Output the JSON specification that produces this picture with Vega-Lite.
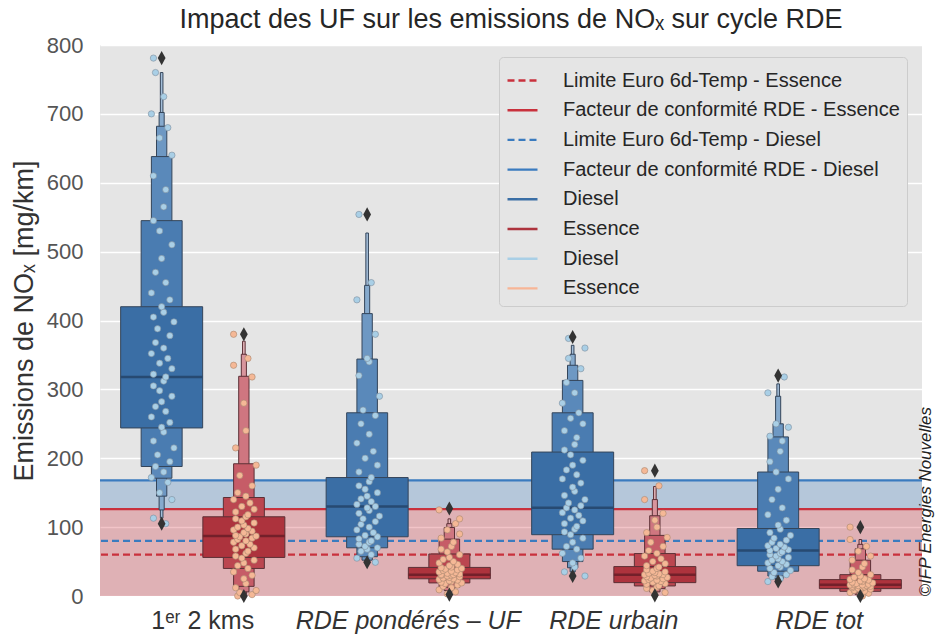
{
  "$schema": "https://vega.github.io/schema/vega-lite/v6.json",
  "width": 822,
  "height": 551,
  "autosize": {"type": "none"},
  "padding": {"left": 100, "top": 45, "right": 14, "bottom": 45},
  "background": "white",
  "config": {
    "font": "Liberation Sans",
    "view": {"fill": "#e5e5e5", "stroke": null},
    "axisX": {"domain": false, "ticks": false, "grid": false, "labelFontSize": 25, "labelColor": "#333333", "labelPadding": 12, "labelAngle": 0, "labelLimit": 400, "labelOverlap": false},
    "axisLeft": {"grid": true, "gridColor": "#ffffff", "gridWidth": 1.5, "domain": false, "ticks": false, "labelFontSize": 22, "labelColor": "#555555", "labelPadding": 17, "titleFontSize": 27, "titleFontWeight": "normal", "titleColor": "#333333", "titlePadding": 8},
    "axisRight": {"labels": false, "ticks": false, "domain": false, "grid": false, "titleFontSize": 17, "titleFontStyle": "italic", "titleFontWeight": "normal", "titleColor": "#222222", "titleAngle": 270, "titleAnchor": "start", "titlePadding": 12}
  },
  "title": {"text": "Impact des UF sur les emissions de NOₓ sur cycle RDE", "fontSize": 27, "fontWeight": "normal", "color": "#262626", "offset": 0},
  "datasets": {
    "zones": [
      {"zone": "Essence", "bas": 0, "haut": 126},
      {"zone": "Diesel", "bas": 126, "haut": 168}
    ],
    "seuils": [
      {"legende": "Limite Euro 6d-Temp - Essence", "valeur": 60},
      {"legende": "Facteur de conformité RDE - Essence", "valeur": 126},
      {"legende": "Limite Euro 6d-Temp - Diesel", "valeur": 80},
      {"legende": "Facteur de conformité RDE - Diesel", "valeur": 168}
    ],
    "boites": [
      {"cycle": "1ᵉʳ 2 kms", "type": "Diesel", "niveau": 6, "bas": 113, "haut": 760},
      {"cycle": "RDE pondérés – UF", "type": "Diesel", "niveau": 6, "bas": 49, "haut": 527},
      {"cycle": "RDE urbain", "type": "Diesel", "niveau": 6, "bas": 31, "haut": 364},
      {"cycle": "RDE tot", "type": "Diesel", "niveau": 6, "bas": 22, "haut": 308},
      {"cycle": "1ᵉʳ 2 kms", "type": "Essence", "niveau": 6, "bas": 0, "haut": 370},
      {"cycle": "RDE pondérés – UF", "type": "Essence", "niveau": 6, "bas": 3, "haut": 112},
      {"cycle": "RDE urbain", "type": "Essence", "niveau": 6, "bas": 2, "haut": 159},
      {"cycle": "RDE tot", "type": "Essence", "niveau": 6, "bas": 0.5, "haut": 82},
      {"cycle": "1ᵉʳ 2 kms", "type": "Diesel", "niveau": 5, "bas": 125, "haut": 702},
      {"cycle": "RDE pondérés – UF", "type": "Diesel", "niveau": 5, "bas": 50, "haut": 451},
      {"cycle": "RDE urbain", "type": "Diesel", "niveau": 5, "bas": 35, "haut": 351},
      {"cycle": "RDE tot", "type": "Diesel", "niveau": 5, "bas": 23, "haut": 290},
      {"cycle": "1ᵉʳ 2 kms", "type": "Essence", "niveau": 5, "bas": 3, "haut": 351},
      {"cycle": "RDE pondérés – UF", "type": "Essence", "niveau": 5, "bas": 5, "haut": 105},
      {"cycle": "RDE urbain", "type": "Essence", "niveau": 5, "bas": 4, "haut": 140},
      {"cycle": "RDE tot", "type": "Essence", "niveau": 5, "bas": 1, "haut": 75},
      {"cycle": "1ᵉʳ 2 kms", "type": "Diesel", "niveau": 4, "bas": 145, "haut": 682},
      {"cycle": "RDE pondérés – UF", "type": "Diesel", "niveau": 4, "bas": 52, "haut": 410},
      {"cycle": "RDE urbain", "type": "Diesel", "niveau": 4, "bas": 41, "haut": 335},
      {"cycle": "RDE tot", "type": "Diesel", "niveau": 4, "bas": 25, "haut": 250},
      {"cycle": "1ᵉʳ 2 kms", "type": "Essence", "niveau": 4, "bas": 6, "haut": 319},
      {"cycle": "RDE pondérés – UF", "type": "Essence", "niveau": 4, "bas": 8, "haut": 99.5},
      {"cycle": "RDE urbain", "type": "Essence", "niveau": 4, "bas": 6, "haut": 116.5},
      {"cycle": "RDE tot", "type": "Essence", "niveau": 4, "bas": 2, "haut": 68.5},
      {"cycle": "1ᵉʳ 2 kms", "type": "Diesel", "niveau": 3, "bas": 171, "haut": 638},
      {"cycle": "RDE pondérés – UF", "type": "Diesel", "niveau": 3, "bas": 57, "haut": 344},
      {"cycle": "RDE urbain", "type": "Diesel", "niveau": 3, "bas": 50, "haut": 313},
      {"cycle": "RDE tot", "type": "Diesel", "niveau": 3, "bas": 29, "haut": 231},
      {"cycle": "1ᵉʳ 2 kms", "type": "Essence", "niveau": 3, "bas": 14, "haut": 192},
      {"cycle": "RDE pondérés – UF", "type": "Essence", "niveau": 3, "bas": 12.6, "haut": 82.6},
      {"cycle": "RDE urbain", "type": "Essence", "niveau": 3, "bas": 10.7, "haut": 88},
      {"cycle": "RDE tot", "type": "Essence", "niveau": 3, "bas": 4.4, "haut": 52},
      {"cycle": "1ᵉʳ 2 kms", "type": "Diesel", "niveau": 2, "bas": 188, "haut": 545},
      {"cycle": "RDE pondérés – UF", "type": "Diesel", "niveau": 2, "bas": 70, "haut": 266},
      {"cycle": "RDE urbain", "type": "Diesel", "niveau": 2, "bas": 68, "haut": 266},
      {"cycle": "RDE tot", "type": "Diesel", "niveau": 2, "bas": 36, "haut": 180},
      {"cycle": "1ᵉʳ 2 kms", "type": "Essence", "niveau": 2, "bas": 40, "haut": 143},
      {"cycle": "RDE pondérés – UF", "type": "Essence", "niveau": 2, "bas": 19, "haut": 61},
      {"cycle": "RDE urbain", "type": "Essence", "niveau": 2, "bas": 14.6, "haut": 61.6},
      {"cycle": "RDE tot", "type": "Essence", "niveau": 2, "bas": 6.8, "haut": 31},
      {"cycle": "1ᵉʳ 2 kms", "type": "Diesel", "niveau": 1, "bas": 244, "haut": 420, "mediane": 318},
      {"cycle": "RDE pondérés – UF", "type": "Diesel", "niveau": 1, "bas": 86, "haut": 172, "mediane": 130},
      {"cycle": "RDE urbain", "type": "Diesel", "niveau": 1, "bas": 89, "haut": 209, "mediane": 128},
      {"cycle": "RDE tot", "type": "Diesel", "niveau": 1, "bas": 44, "haut": 98, "mediane": 66},
      {"cycle": "1ᵉʳ 2 kms", "type": "Essence", "niveau": 1, "bas": 56, "haut": 115, "mediane": 87},
      {"cycle": "RDE pondérés – UF", "type": "Essence", "niveau": 1, "bas": 25, "haut": 41.5, "mediane": 31},
      {"cycle": "RDE urbain", "type": "Essence", "niveau": 1, "bas": 19.4, "haut": 42.7, "mediane": 31},
      {"cycle": "RDE tot", "type": "Essence", "niveau": 1, "bas": 10.7, "haut": 23.8, "mediane": 16.5}
    ],
    "aberrants": [
      {"cycle": "1ᵉʳ 2 kms", "type": "Diesel", "v": 781},
      {"cycle": "1ᵉʳ 2 kms", "type": "Diesel", "v": 105},
      {"cycle": "1ᵉʳ 2 kms", "type": "Essence", "v": 380},
      {"cycle": "1ᵉʳ 2 kms", "type": "Essence", "v": 0},
      {"cycle": "RDE pondérés – UF", "type": "Diesel", "v": 554},
      {"cycle": "RDE pondérés – UF", "type": "Diesel", "v": 49},
      {"cycle": "RDE pondérés – UF", "type": "Essence", "v": 127},
      {"cycle": "RDE pondérés – UF", "type": "Essence", "v": 2},
      {"cycle": "RDE urbain", "type": "Diesel", "v": 376},
      {"cycle": "RDE urbain", "type": "Diesel", "v": 29},
      {"cycle": "RDE urbain", "type": "Essence", "v": 182},
      {"cycle": "RDE urbain", "type": "Essence", "v": 1},
      {"cycle": "RDE tot", "type": "Diesel", "v": 320},
      {"cycle": "RDE tot", "type": "Diesel", "v": 21},
      {"cycle": "RDE tot", "type": "Essence", "v": 100},
      {"cycle": "RDE tot", "type": "Essence", "v": 0}
    ],
    "points": [
      {"cycle": "1ᵉʳ 2 kms", "type": "Diesel", "v": 105, "j": 2},
      {"cycle": "1ᵉʳ 2 kms", "type": "Diesel", "v": 113, "j": -4},
      {"cycle": "1ᵉʳ 2 kms", "type": "Diesel", "v": 140, "j": 5},
      {"cycle": "1ᵉʳ 2 kms", "type": "Diesel", "v": 150, "j": -1},
      {"cycle": "1ᵉʳ 2 kms", "type": "Diesel", "v": 165, "j": 3},
      {"cycle": "1ᵉʳ 2 kms", "type": "Diesel", "v": 172, "j": -5},
      {"cycle": "1ᵉʳ 2 kms", "type": "Diesel", "v": 180, "j": 1},
      {"cycle": "1ᵉʳ 2 kms", "type": "Diesel", "v": 188, "j": -3},
      {"cycle": "1ᵉʳ 2 kms", "type": "Diesel", "v": 195, "j": 4},
      {"cycle": "1ᵉʳ 2 kms", "type": "Diesel", "v": 205, "j": -2},
      {"cycle": "1ᵉʳ 2 kms", "type": "Diesel", "v": 215, "j": 6},
      {"cycle": "1ᵉʳ 2 kms", "type": "Diesel", "v": 225, "j": -4},
      {"cycle": "1ᵉʳ 2 kms", "type": "Diesel", "v": 238, "j": 1},
      {"cycle": "1ᵉʳ 2 kms", "type": "Diesel", "v": 245, "j": 0},
      {"cycle": "1ᵉʳ 2 kms", "type": "Diesel", "v": 252, "j": 4},
      {"cycle": "1ᵉʳ 2 kms", "type": "Diesel", "v": 260, "j": -5},
      {"cycle": "1ᵉʳ 2 kms", "type": "Diesel", "v": 268, "j": 2},
      {"cycle": "1ᵉʳ 2 kms", "type": "Diesel", "v": 275, "j": -3},
      {"cycle": "1ᵉʳ 2 kms", "type": "Diesel", "v": 282, "j": 0},
      {"cycle": "1ᵉʳ 2 kms", "type": "Diesel", "v": 290, "j": 5},
      {"cycle": "1ᵉʳ 2 kms", "type": "Diesel", "v": 298, "j": -1},
      {"cycle": "1ᵉʳ 2 kms", "type": "Diesel", "v": 305, "j": -4},
      {"cycle": "1ᵉʳ 2 kms", "type": "Diesel", "v": 312, "j": 1},
      {"cycle": "1ᵉʳ 2 kms", "type": "Diesel", "v": 318, "j": 2},
      {"cycle": "1ᵉʳ 2 kms", "type": "Diesel", "v": 322, "j": -4},
      {"cycle": "1ᵉʳ 2 kms", "type": "Diesel", "v": 330, "j": 5},
      {"cycle": "1ᵉʳ 2 kms", "type": "Diesel", "v": 338, "j": -1},
      {"cycle": "1ᵉʳ 2 kms", "type": "Diesel", "v": 345, "j": 3},
      {"cycle": "1ᵉʳ 2 kms", "type": "Diesel", "v": 352, "j": -5},
      {"cycle": "1ᵉʳ 2 kms", "type": "Diesel", "v": 360, "j": 1},
      {"cycle": "1ᵉʳ 2 kms", "type": "Diesel", "v": 368, "j": -3},
      {"cycle": "1ᵉʳ 2 kms", "type": "Diesel", "v": 378, "j": 4},
      {"cycle": "1ᵉʳ 2 kms", "type": "Diesel", "v": 388, "j": -2},
      {"cycle": "1ᵉʳ 2 kms", "type": "Diesel", "v": 398, "j": 6},
      {"cycle": "1ᵉʳ 2 kms", "type": "Diesel", "v": 405, "j": -4},
      {"cycle": "1ᵉʳ 2 kms", "type": "Diesel", "v": 412, "j": 1},
      {"cycle": "1ᵉʳ 2 kms", "type": "Diesel", "v": 420, "j": 0},
      {"cycle": "1ᵉʳ 2 kms", "type": "Diesel", "v": 430, "j": 4},
      {"cycle": "1ᵉʳ 2 kms", "type": "Diesel", "v": 440, "j": -5},
      {"cycle": "1ᵉʳ 2 kms", "type": "Diesel", "v": 455, "j": 2},
      {"cycle": "1ᵉʳ 2 kms", "type": "Diesel", "v": 470, "j": -3},
      {"cycle": "1ᵉʳ 2 kms", "type": "Diesel", "v": 490, "j": 0},
      {"cycle": "1ᵉʳ 2 kms", "type": "Diesel", "v": 510, "j": 5},
      {"cycle": "1ᵉʳ 2 kms", "type": "Diesel", "v": 530, "j": -1},
      {"cycle": "1ᵉʳ 2 kms", "type": "Diesel", "v": 545, "j": -4},
      {"cycle": "1ᵉʳ 2 kms", "type": "Diesel", "v": 565, "j": 1},
      {"cycle": "1ᵉʳ 2 kms", "type": "Diesel", "v": 590, "j": 2},
      {"cycle": "1ᵉʳ 2 kms", "type": "Diesel", "v": 610, "j": -4},
      {"cycle": "1ᵉʳ 2 kms", "type": "Diesel", "v": 640, "j": 5},
      {"cycle": "1ᵉʳ 2 kms", "type": "Diesel", "v": 665, "j": -1},
      {"cycle": "1ᵉʳ 2 kms", "type": "Diesel", "v": 680, "j": 3},
      {"cycle": "1ᵉʳ 2 kms", "type": "Diesel", "v": 700, "j": -5},
      {"cycle": "1ᵉʳ 2 kms", "type": "Diesel", "v": 725, "j": 1},
      {"cycle": "1ᵉʳ 2 kms", "type": "Diesel", "v": 760, "j": -3},
      {"cycle": "1ᵉʳ 2 kms", "type": "Diesel", "v": 781, "j": -4},
      {"cycle": "1ᵉʳ 2 kms", "type": "Essence", "v": 0, "j": -3},
      {"cycle": "1ᵉʳ 2 kms", "type": "Essence", "v": 2, "j": 4},
      {"cycle": "1ᵉʳ 2 kms", "type": "Essence", "v": 5, "j": -2},
      {"cycle": "1ᵉʳ 2 kms", "type": "Essence", "v": 8, "j": 6},
      {"cycle": "1ᵉʳ 2 kms", "type": "Essence", "v": 12, "j": -4},
      {"cycle": "1ᵉʳ 2 kms", "type": "Essence", "v": 18, "j": 1},
      {"cycle": "1ᵉʳ 2 kms", "type": "Essence", "v": 25, "j": 0},
      {"cycle": "1ᵉʳ 2 kms", "type": "Essence", "v": 30, "j": 4},
      {"cycle": "1ᵉʳ 2 kms", "type": "Essence", "v": 35, "j": -5},
      {"cycle": "1ᵉʳ 2 kms", "type": "Essence", "v": 40, "j": 2},
      {"cycle": "1ᵉʳ 2 kms", "type": "Essence", "v": 44, "j": -3},
      {"cycle": "1ᵉʳ 2 kms", "type": "Essence", "v": 48, "j": 0},
      {"cycle": "1ᵉʳ 2 kms", "type": "Essence", "v": 52, "j": 5},
      {"cycle": "1ᵉʳ 2 kms", "type": "Essence", "v": 55, "j": -1},
      {"cycle": "1ᵉʳ 2 kms", "type": "Essence", "v": 58, "j": -4},
      {"cycle": "1ᵉʳ 2 kms", "type": "Essence", "v": 62, "j": 1},
      {"cycle": "1ᵉʳ 2 kms", "type": "Essence", "v": 65, "j": 2},
      {"cycle": "1ᵉʳ 2 kms", "type": "Essence", "v": 68, "j": -4},
      {"cycle": "1ᵉʳ 2 kms", "type": "Essence", "v": 70, "j": 5},
      {"cycle": "1ᵉʳ 2 kms", "type": "Essence", "v": 73, "j": -1},
      {"cycle": "1ᵉʳ 2 kms", "type": "Essence", "v": 75, "j": 3},
      {"cycle": "1ᵉʳ 2 kms", "type": "Essence", "v": 78, "j": -5},
      {"cycle": "1ᵉʳ 2 kms", "type": "Essence", "v": 80, "j": 1},
      {"cycle": "1ᵉʳ 2 kms", "type": "Essence", "v": 82, "j": -3},
      {"cycle": "1ᵉʳ 2 kms", "type": "Essence", "v": 84, "j": 4},
      {"cycle": "1ᵉʳ 2 kms", "type": "Essence", "v": 86, "j": -2},
      {"cycle": "1ᵉʳ 2 kms", "type": "Essence", "v": 87, "j": 6},
      {"cycle": "1ᵉʳ 2 kms", "type": "Essence", "v": 88, "j": -4},
      {"cycle": "1ᵉʳ 2 kms", "type": "Essence", "v": 90, "j": 1},
      {"cycle": "1ᵉʳ 2 kms", "type": "Essence", "v": 92, "j": 0},
      {"cycle": "1ᵉʳ 2 kms", "type": "Essence", "v": 94, "j": 4},
      {"cycle": "1ᵉʳ 2 kms", "type": "Essence", "v": 96, "j": -5},
      {"cycle": "1ᵉʳ 2 kms", "type": "Essence", "v": 98, "j": 2},
      {"cycle": "1ᵉʳ 2 kms", "type": "Essence", "v": 100, "j": -3},
      {"cycle": "1ᵉʳ 2 kms", "type": "Essence", "v": 103, "j": 0},
      {"cycle": "1ᵉʳ 2 kms", "type": "Essence", "v": 106, "j": 5},
      {"cycle": "1ᵉʳ 2 kms", "type": "Essence", "v": 109, "j": -1},
      {"cycle": "1ᵉʳ 2 kms", "type": "Essence", "v": 112, "j": -4},
      {"cycle": "1ᵉʳ 2 kms", "type": "Essence", "v": 115, "j": 1},
      {"cycle": "1ᵉʳ 2 kms", "type": "Essence", "v": 118, "j": 2},
      {"cycle": "1ᵉʳ 2 kms", "type": "Essence", "v": 122, "j": -4},
      {"cycle": "1ᵉʳ 2 kms", "type": "Essence", "v": 126, "j": 5},
      {"cycle": "1ᵉʳ 2 kms", "type": "Essence", "v": 130, "j": -1},
      {"cycle": "1ᵉʳ 2 kms", "type": "Essence", "v": 135, "j": 3},
      {"cycle": "1ᵉʳ 2 kms", "type": "Essence", "v": 140, "j": -5},
      {"cycle": "1ᵉʳ 2 kms", "type": "Essence", "v": 145, "j": 1},
      {"cycle": "1ᵉʳ 2 kms", "type": "Essence", "v": 150, "j": -3},
      {"cycle": "1ᵉʳ 2 kms", "type": "Essence", "v": 160, "j": 4},
      {"cycle": "1ᵉʳ 2 kms", "type": "Essence", "v": 175, "j": -2},
      {"cycle": "1ᵉʳ 2 kms", "type": "Essence", "v": 190, "j": 6},
      {"cycle": "1ᵉʳ 2 kms", "type": "Essence", "v": 215, "j": -4},
      {"cycle": "1ᵉʳ 2 kms", "type": "Essence", "v": 240, "j": 1},
      {"cycle": "1ᵉʳ 2 kms", "type": "Essence", "v": 280, "j": 0},
      {"cycle": "1ᵉʳ 2 kms", "type": "Essence", "v": 318, "j": 4},
      {"cycle": "1ᵉʳ 2 kms", "type": "Essence", "v": 335, "j": -5},
      {"cycle": "1ᵉʳ 2 kms", "type": "Essence", "v": 345, "j": 2},
      {"cycle": "1ᵉʳ 2 kms", "type": "Essence", "v": 380, "j": -5},
      {"cycle": "RDE pondérés – UF", "type": "Diesel", "v": 49, "j": 4},
      {"cycle": "RDE pondérés – UF", "type": "Diesel", "v": 55, "j": -5},
      {"cycle": "RDE pondérés – UF", "type": "Diesel", "v": 60, "j": 2},
      {"cycle": "RDE pondérés – UF", "type": "Diesel", "v": 65, "j": -3},
      {"cycle": "RDE pondérés – UF", "type": "Diesel", "v": 68, "j": 0},
      {"cycle": "RDE pondérés – UF", "type": "Diesel", "v": 70, "j": 5},
      {"cycle": "RDE pondérés – UF", "type": "Diesel", "v": 72, "j": -1},
      {"cycle": "RDE pondérés – UF", "type": "Diesel", "v": 75, "j": -4},
      {"cycle": "RDE pondérés – UF", "type": "Diesel", "v": 78, "j": 1},
      {"cycle": "RDE pondérés – UF", "type": "Diesel", "v": 80, "j": 2},
      {"cycle": "RDE pondérés – UF", "type": "Diesel", "v": 83, "j": -4},
      {"cycle": "RDE pondérés – UF", "type": "Diesel", "v": 86, "j": 5},
      {"cycle": "RDE pondérés – UF", "type": "Diesel", "v": 88, "j": -1},
      {"cycle": "RDE pondérés – UF", "type": "Diesel", "v": 92, "j": 3},
      {"cycle": "RDE pondérés – UF", "type": "Diesel", "v": 96, "j": -5},
      {"cycle": "RDE pondérés – UF", "type": "Diesel", "v": 100, "j": 1},
      {"cycle": "RDE pondérés – UF", "type": "Diesel", "v": 104, "j": -3},
      {"cycle": "RDE pondérés – UF", "type": "Diesel", "v": 108, "j": 4},
      {"cycle": "RDE pondérés – UF", "type": "Diesel", "v": 112, "j": -2},
      {"cycle": "RDE pondérés – UF", "type": "Diesel", "v": 116, "j": 6},
      {"cycle": "RDE pondérés – UF", "type": "Diesel", "v": 120, "j": -4},
      {"cycle": "RDE pondérés – UF", "type": "Diesel", "v": 124, "j": 1},
      {"cycle": "RDE pondérés – UF", "type": "Diesel", "v": 128, "j": 0},
      {"cycle": "RDE pondérés – UF", "type": "Diesel", "v": 130, "j": 4},
      {"cycle": "RDE pondérés – UF", "type": "Diesel", "v": 133, "j": -5},
      {"cycle": "RDE pondérés – UF", "type": "Diesel", "v": 137, "j": 2},
      {"cycle": "RDE pondérés – UF", "type": "Diesel", "v": 141, "j": -3},
      {"cycle": "RDE pondérés – UF", "type": "Diesel", "v": 145, "j": 0},
      {"cycle": "RDE pondérés – UF", "type": "Diesel", "v": 150, "j": 5},
      {"cycle": "RDE pondérés – UF", "type": "Diesel", "v": 155, "j": -1},
      {"cycle": "RDE pondérés – UF", "type": "Diesel", "v": 160, "j": -4},
      {"cycle": "RDE pondérés – UF", "type": "Diesel", "v": 166, "j": 1},
      {"cycle": "RDE pondérés – UF", "type": "Diesel", "v": 172, "j": 2},
      {"cycle": "RDE pondérés – UF", "type": "Diesel", "v": 180, "j": -4},
      {"cycle": "RDE pondérés – UF", "type": "Diesel", "v": 190, "j": 5},
      {"cycle": "RDE pondérés – UF", "type": "Diesel", "v": 200, "j": -1},
      {"cycle": "RDE pondérés – UF", "type": "Diesel", "v": 210, "j": 3},
      {"cycle": "RDE pondérés – UF", "type": "Diesel", "v": 222, "j": -5},
      {"cycle": "RDE pondérés – UF", "type": "Diesel", "v": 235, "j": 1},
      {"cycle": "RDE pondérés – UF", "type": "Diesel", "v": 250, "j": -3},
      {"cycle": "RDE pondérés – UF", "type": "Diesel", "v": 262, "j": 4},
      {"cycle": "RDE pondérés – UF", "type": "Diesel", "v": 270, "j": -2},
      {"cycle": "RDE pondérés – UF", "type": "Diesel", "v": 290, "j": 6},
      {"cycle": "RDE pondérés – UF", "type": "Diesel", "v": 320, "j": -4},
      {"cycle": "RDE pondérés – UF", "type": "Diesel", "v": 340, "j": 1},
      {"cycle": "RDE pondérés – UF", "type": "Diesel", "v": 345, "j": 0},
      {"cycle": "RDE pondérés – UF", "type": "Diesel", "v": 380, "j": 4},
      {"cycle": "RDE pondérés – UF", "type": "Diesel", "v": 430, "j": -5},
      {"cycle": "RDE pondérés – UF", "type": "Diesel", "v": 455, "j": 2},
      {"cycle": "RDE pondérés – UF", "type": "Diesel", "v": 554, "j": -4},
      {"cycle": "RDE pondérés – UF", "type": "Essence", "v": 3, "j": -1},
      {"cycle": "RDE pondérés – UF", "type": "Essence", "v": 6, "j": 3},
      {"cycle": "RDE pondérés – UF", "type": "Essence", "v": 9, "j": -5},
      {"cycle": "RDE pondérés – UF", "type": "Essence", "v": 12, "j": 1},
      {"cycle": "RDE pondérés – UF", "type": "Essence", "v": 14, "j": -3},
      {"cycle": "RDE pondérés – UF", "type": "Essence", "v": 16, "j": 4},
      {"cycle": "RDE pondérés – UF", "type": "Essence", "v": 18, "j": -2},
      {"cycle": "RDE pondérés – UF", "type": "Essence", "v": 19, "j": 6},
      {"cycle": "RDE pondérés – UF", "type": "Essence", "v": 20, "j": -4},
      {"cycle": "RDE pondérés – UF", "type": "Essence", "v": 21, "j": 1},
      {"cycle": "RDE pondérés – UF", "type": "Essence", "v": 22, "j": 0},
      {"cycle": "RDE pondérés – UF", "type": "Essence", "v": 23, "j": 4},
      {"cycle": "RDE pondérés – UF", "type": "Essence", "v": 24, "j": -5},
      {"cycle": "RDE pondérés – UF", "type": "Essence", "v": 25, "j": 2},
      {"cycle": "RDE pondérés – UF", "type": "Essence", "v": 26, "j": -3},
      {"cycle": "RDE pondérés – UF", "type": "Essence", "v": 27, "j": 0},
      {"cycle": "RDE pondérés – UF", "type": "Essence", "v": 28, "j": 5},
      {"cycle": "RDE pondérés – UF", "type": "Essence", "v": 29, "j": -1},
      {"cycle": "RDE pondérés – UF", "type": "Essence", "v": 30, "j": -4},
      {"cycle": "RDE pondérés – UF", "type": "Essence", "v": 30, "j": 1},
      {"cycle": "RDE pondérés – UF", "type": "Essence", "v": 31, "j": 2},
      {"cycle": "RDE pondérés – UF", "type": "Essence", "v": 31, "j": -4},
      {"cycle": "RDE pondérés – UF", "type": "Essence", "v": 32, "j": 5},
      {"cycle": "RDE pondérés – UF", "type": "Essence", "v": 33, "j": -1},
      {"cycle": "RDE pondérés – UF", "type": "Essence", "v": 34, "j": 3},
      {"cycle": "RDE pondérés – UF", "type": "Essence", "v": 35, "j": -5},
      {"cycle": "RDE pondérés – UF", "type": "Essence", "v": 36, "j": 1},
      {"cycle": "RDE pondérés – UF", "type": "Essence", "v": 37, "j": -3},
      {"cycle": "RDE pondérés – UF", "type": "Essence", "v": 38, "j": 4},
      {"cycle": "RDE pondérés – UF", "type": "Essence", "v": 39, "j": -2},
      {"cycle": "RDE pondérés – UF", "type": "Essence", "v": 40, "j": 6},
      {"cycle": "RDE pondérés – UF", "type": "Essence", "v": 41, "j": -4},
      {"cycle": "RDE pondérés – UF", "type": "Essence", "v": 42, "j": 1},
      {"cycle": "RDE pondérés – UF", "type": "Essence", "v": 44, "j": 0},
      {"cycle": "RDE pondérés – UF", "type": "Essence", "v": 46, "j": 4},
      {"cycle": "RDE pondérés – UF", "type": "Essence", "v": 48, "j": -5},
      {"cycle": "RDE pondérés – UF", "type": "Essence", "v": 50, "j": 2},
      {"cycle": "RDE pondérés – UF", "type": "Essence", "v": 53, "j": -3},
      {"cycle": "RDE pondérés – UF", "type": "Essence", "v": 56, "j": 0},
      {"cycle": "RDE pondérés – UF", "type": "Essence", "v": 60, "j": 5},
      {"cycle": "RDE pondérés – UF", "type": "Essence", "v": 64, "j": -1},
      {"cycle": "RDE pondérés – UF", "type": "Essence", "v": 68, "j": -4},
      {"cycle": "RDE pondérés – UF", "type": "Essence", "v": 72, "j": 1},
      {"cycle": "RDE pondérés – UF", "type": "Essence", "v": 78, "j": 2},
      {"cycle": "RDE pondérés – UF", "type": "Essence", "v": 84, "j": -4},
      {"cycle": "RDE pondérés – UF", "type": "Essence", "v": 90, "j": 5},
      {"cycle": "RDE pondérés – UF", "type": "Essence", "v": 96, "j": -1},
      {"cycle": "RDE pondérés – UF", "type": "Essence", "v": 105, "j": 3},
      {"cycle": "RDE pondérés – UF", "type": "Essence", "v": 112, "j": 5},
      {"cycle": "RDE pondérés – UF", "type": "Essence", "v": 125, "j": -5},
      {"cycle": "RDE urbain", "type": "Diesel", "v": 29, "j": 6},
      {"cycle": "RDE urbain", "type": "Diesel", "v": 35, "j": -4},
      {"cycle": "RDE urbain", "type": "Diesel", "v": 42, "j": 1},
      {"cycle": "RDE urbain", "type": "Diesel", "v": 48, "j": 0},
      {"cycle": "RDE urbain", "type": "Diesel", "v": 55, "j": 4},
      {"cycle": "RDE urbain", "type": "Diesel", "v": 62, "j": -5},
      {"cycle": "RDE urbain", "type": "Diesel", "v": 68, "j": 2},
      {"cycle": "RDE urbain", "type": "Diesel", "v": 72, "j": -3},
      {"cycle": "RDE urbain", "type": "Diesel", "v": 78, "j": 0},
      {"cycle": "RDE urbain", "type": "Diesel", "v": 84, "j": 5},
      {"cycle": "RDE urbain", "type": "Diesel", "v": 89, "j": -1},
      {"cycle": "RDE urbain", "type": "Diesel", "v": 93, "j": -4},
      {"cycle": "RDE urbain", "type": "Diesel", "v": 97, "j": 1},
      {"cycle": "RDE urbain", "type": "Diesel", "v": 101, "j": 2},
      {"cycle": "RDE urbain", "type": "Diesel", "v": 105, "j": -4},
      {"cycle": "RDE urbain", "type": "Diesel", "v": 109, "j": 5},
      {"cycle": "RDE urbain", "type": "Diesel", "v": 113, "j": -1},
      {"cycle": "RDE urbain", "type": "Diesel", "v": 117, "j": 3},
      {"cycle": "RDE urbain", "type": "Diesel", "v": 121, "j": -5},
      {"cycle": "RDE urbain", "type": "Diesel", "v": 125, "j": 1},
      {"cycle": "RDE urbain", "type": "Diesel", "v": 128, "j": -3},
      {"cycle": "RDE urbain", "type": "Diesel", "v": 131, "j": 4},
      {"cycle": "RDE urbain", "type": "Diesel", "v": 135, "j": -2},
      {"cycle": "RDE urbain", "type": "Diesel", "v": 140, "j": 6},
      {"cycle": "RDE urbain", "type": "Diesel", "v": 146, "j": -4},
      {"cycle": "RDE urbain", "type": "Diesel", "v": 152, "j": 1},
      {"cycle": "RDE urbain", "type": "Diesel", "v": 158, "j": 0},
      {"cycle": "RDE urbain", "type": "Diesel", "v": 164, "j": 4},
      {"cycle": "RDE urbain", "type": "Diesel", "v": 170, "j": -5},
      {"cycle": "RDE urbain", "type": "Diesel", "v": 176, "j": 2},
      {"cycle": "RDE urbain", "type": "Diesel", "v": 183, "j": -3},
      {"cycle": "RDE urbain", "type": "Diesel", "v": 190, "j": 0},
      {"cycle": "RDE urbain", "type": "Diesel", "v": 197, "j": 5},
      {"cycle": "RDE urbain", "type": "Diesel", "v": 205, "j": -1},
      {"cycle": "RDE urbain", "type": "Diesel", "v": 212, "j": -4},
      {"cycle": "RDE urbain", "type": "Diesel", "v": 220, "j": 1},
      {"cycle": "RDE urbain", "type": "Diesel", "v": 230, "j": 2},
      {"cycle": "RDE urbain", "type": "Diesel", "v": 240, "j": -4},
      {"cycle": "RDE urbain", "type": "Diesel", "v": 250, "j": 5},
      {"cycle": "RDE urbain", "type": "Diesel", "v": 258, "j": -1},
      {"cycle": "RDE urbain", "type": "Diesel", "v": 266, "j": 3},
      {"cycle": "RDE urbain", "type": "Diesel", "v": 280, "j": -5},
      {"cycle": "RDE urbain", "type": "Diesel", "v": 295, "j": 1},
      {"cycle": "RDE urbain", "type": "Diesel", "v": 310, "j": -3},
      {"cycle": "RDE urbain", "type": "Diesel", "v": 330, "j": 4},
      {"cycle": "RDE urbain", "type": "Diesel", "v": 345, "j": -2},
      {"cycle": "RDE urbain", "type": "Diesel", "v": 360, "j": 6},
      {"cycle": "RDE urbain", "type": "Diesel", "v": 374, "j": -2},
      {"cycle": "RDE urbain", "type": "Essence", "v": 2, "j": 0},
      {"cycle": "RDE urbain", "type": "Essence", "v": 5, "j": 5},
      {"cycle": "RDE urbain", "type": "Essence", "v": 8, "j": -1},
      {"cycle": "RDE urbain", "type": "Essence", "v": 11, "j": -4},
      {"cycle": "RDE urbain", "type": "Essence", "v": 13, "j": 1},
      {"cycle": "RDE urbain", "type": "Essence", "v": 15, "j": 2},
      {"cycle": "RDE urbain", "type": "Essence", "v": 17, "j": -4},
      {"cycle": "RDE urbain", "type": "Essence", "v": 18, "j": 5},
      {"cycle": "RDE urbain", "type": "Essence", "v": 20, "j": -1},
      {"cycle": "RDE urbain", "type": "Essence", "v": 21, "j": 3},
      {"cycle": "RDE urbain", "type": "Essence", "v": 22, "j": -5},
      {"cycle": "RDE urbain", "type": "Essence", "v": 23, "j": 1},
      {"cycle": "RDE urbain", "type": "Essence", "v": 24, "j": -3},
      {"cycle": "RDE urbain", "type": "Essence", "v": 25, "j": 4},
      {"cycle": "RDE urbain", "type": "Essence", "v": 26, "j": -2},
      {"cycle": "RDE urbain", "type": "Essence", "v": 27, "j": 6},
      {"cycle": "RDE urbain", "type": "Essence", "v": 28, "j": -4},
      {"cycle": "RDE urbain", "type": "Essence", "v": 29, "j": 1},
      {"cycle": "RDE urbain", "type": "Essence", "v": 30, "j": 0},
      {"cycle": "RDE urbain", "type": "Essence", "v": 31, "j": 4},
      {"cycle": "RDE urbain", "type": "Essence", "v": 31, "j": -5},
      {"cycle": "RDE urbain", "type": "Essence", "v": 32, "j": 2},
      {"cycle": "RDE urbain", "type": "Essence", "v": 33, "j": -3},
      {"cycle": "RDE urbain", "type": "Essence", "v": 34, "j": 0},
      {"cycle": "RDE urbain", "type": "Essence", "v": 35, "j": 5},
      {"cycle": "RDE urbain", "type": "Essence", "v": 36, "j": -1},
      {"cycle": "RDE urbain", "type": "Essence", "v": 38, "j": -4},
      {"cycle": "RDE urbain", "type": "Essence", "v": 40, "j": 1},
      {"cycle": "RDE urbain", "type": "Essence", "v": 42, "j": 2},
      {"cycle": "RDE urbain", "type": "Essence", "v": 44, "j": -4},
      {"cycle": "RDE urbain", "type": "Essence", "v": 47, "j": 5},
      {"cycle": "RDE urbain", "type": "Essence", "v": 50, "j": -1},
      {"cycle": "RDE urbain", "type": "Essence", "v": 54, "j": 3},
      {"cycle": "RDE urbain", "type": "Essence", "v": 58, "j": -5},
      {"cycle": "RDE urbain", "type": "Essence", "v": 62, "j": 1},
      {"cycle": "RDE urbain", "type": "Essence", "v": 66, "j": -3},
      {"cycle": "RDE urbain", "type": "Essence", "v": 72, "j": 4},
      {"cycle": "RDE urbain", "type": "Essence", "v": 78, "j": -2},
      {"cycle": "RDE urbain", "type": "Essence", "v": 85, "j": 6},
      {"cycle": "RDE urbain", "type": "Essence", "v": 92, "j": -4},
      {"cycle": "RDE urbain", "type": "Essence", "v": 100, "j": 1},
      {"cycle": "RDE urbain", "type": "Essence", "v": 110, "j": 0},
      {"cycle": "RDE urbain", "type": "Essence", "v": 120, "j": 4},
      {"cycle": "RDE urbain", "type": "Essence", "v": 140, "j": -5},
      {"cycle": "RDE urbain", "type": "Essence", "v": 160, "j": 2},
      {"cycle": "RDE urbain", "type": "Essence", "v": 182, "j": -5},
      {"cycle": "RDE tot", "type": "Diesel", "v": 21, "j": -5},
      {"cycle": "RDE tot", "type": "Diesel", "v": 25, "j": 1},
      {"cycle": "RDE tot", "type": "Diesel", "v": 28, "j": -3},
      {"cycle": "RDE tot", "type": "Diesel", "v": 31, "j": 4},
      {"cycle": "RDE tot", "type": "Diesel", "v": 34, "j": -2},
      {"cycle": "RDE tot", "type": "Diesel", "v": 37, "j": 6},
      {"cycle": "RDE tot", "type": "Diesel", "v": 40, "j": -4},
      {"cycle": "RDE tot", "type": "Diesel", "v": 42, "j": 1},
      {"cycle": "RDE tot", "type": "Diesel", "v": 44, "j": 0},
      {"cycle": "RDE tot", "type": "Diesel", "v": 46, "j": 4},
      {"cycle": "RDE tot", "type": "Diesel", "v": 48, "j": -5},
      {"cycle": "RDE tot", "type": "Diesel", "v": 50, "j": 2},
      {"cycle": "RDE tot", "type": "Diesel", "v": 52, "j": -3},
      {"cycle": "RDE tot", "type": "Diesel", "v": 54, "j": 0},
      {"cycle": "RDE tot", "type": "Diesel", "v": 56, "j": 5},
      {"cycle": "RDE tot", "type": "Diesel", "v": 58, "j": -1},
      {"cycle": "RDE tot", "type": "Diesel", "v": 60, "j": -4},
      {"cycle": "RDE tot", "type": "Diesel", "v": 62, "j": 1},
      {"cycle": "RDE tot", "type": "Diesel", "v": 64, "j": 2},
      {"cycle": "RDE tot", "type": "Diesel", "v": 66, "j": -4},
      {"cycle": "RDE tot", "type": "Diesel", "v": 67, "j": 5},
      {"cycle": "RDE tot", "type": "Diesel", "v": 69, "j": -1},
      {"cycle": "RDE tot", "type": "Diesel", "v": 71, "j": 3},
      {"cycle": "RDE tot", "type": "Diesel", "v": 73, "j": -5},
      {"cycle": "RDE tot", "type": "Diesel", "v": 75, "j": 1},
      {"cycle": "RDE tot", "type": "Diesel", "v": 78, "j": -3},
      {"cycle": "RDE tot", "type": "Diesel", "v": 81, "j": 4},
      {"cycle": "RDE tot", "type": "Diesel", "v": 84, "j": -2},
      {"cycle": "RDE tot", "type": "Diesel", "v": 88, "j": 6},
      {"cycle": "RDE tot", "type": "Diesel", "v": 92, "j": -4},
      {"cycle": "RDE tot", "type": "Diesel", "v": 97, "j": 1},
      {"cycle": "RDE tot", "type": "Diesel", "v": 103, "j": 0},
      {"cycle": "RDE tot", "type": "Diesel", "v": 110, "j": 4},
      {"cycle": "RDE tot", "type": "Diesel", "v": 118, "j": -5},
      {"cycle": "RDE tot", "type": "Diesel", "v": 128, "j": 2},
      {"cycle": "RDE tot", "type": "Diesel", "v": 140, "j": -3},
      {"cycle": "RDE tot", "type": "Diesel", "v": 155, "j": 0},
      {"cycle": "RDE tot", "type": "Diesel", "v": 170, "j": 5},
      {"cycle": "RDE tot", "type": "Diesel", "v": 180, "j": -1},
      {"cycle": "RDE tot", "type": "Diesel", "v": 195, "j": -4},
      {"cycle": "RDE tot", "type": "Diesel", "v": 210, "j": 1},
      {"cycle": "RDE tot", "type": "Diesel", "v": 225, "j": 2},
      {"cycle": "RDE tot", "type": "Diesel", "v": 232, "j": -4},
      {"cycle": "RDE tot", "type": "Diesel", "v": 245, "j": 5},
      {"cycle": "RDE tot", "type": "Diesel", "v": 250, "j": -1},
      {"cycle": "RDE tot", "type": "Diesel", "v": 295, "j": -5},
      {"cycle": "RDE tot", "type": "Diesel", "v": 318, "j": 3},
      {"cycle": "RDE tot", "type": "Essence", "v": 0, "j": 1},
      {"cycle": "RDE tot", "type": "Essence", "v": 2, "j": 0},
      {"cycle": "RDE tot", "type": "Essence", "v": 4, "j": 4},
      {"cycle": "RDE tot", "type": "Essence", "v": 5, "j": -5},
      {"cycle": "RDE tot", "type": "Essence", "v": 7, "j": 2},
      {"cycle": "RDE tot", "type": "Essence", "v": 8, "j": -3},
      {"cycle": "RDE tot", "type": "Essence", "v": 9, "j": 0},
      {"cycle": "RDE tot", "type": "Essence", "v": 10, "j": 5},
      {"cycle": "RDE tot", "type": "Essence", "v": 11, "j": -1},
      {"cycle": "RDE tot", "type": "Essence", "v": 12, "j": -4},
      {"cycle": "RDE tot", "type": "Essence", "v": 12, "j": 1},
      {"cycle": "RDE tot", "type": "Essence", "v": 13, "j": 2},
      {"cycle": "RDE tot", "type": "Essence", "v": 14, "j": -4},
      {"cycle": "RDE tot", "type": "Essence", "v": 14, "j": 5},
      {"cycle": "RDE tot", "type": "Essence", "v": 15, "j": -1},
      {"cycle": "RDE tot", "type": "Essence", "v": 15, "j": 3},
      {"cycle": "RDE tot", "type": "Essence", "v": 16, "j": -5},
      {"cycle": "RDE tot", "type": "Essence", "v": 16, "j": 1},
      {"cycle": "RDE tot", "type": "Essence", "v": 17, "j": -3},
      {"cycle": "RDE tot", "type": "Essence", "v": 17, "j": 4},
      {"cycle": "RDE tot", "type": "Essence", "v": 18, "j": -2},
      {"cycle": "RDE tot", "type": "Essence", "v": 19, "j": 6},
      {"cycle": "RDE tot", "type": "Essence", "v": 20, "j": -4},
      {"cycle": "RDE tot", "type": "Essence", "v": 21, "j": 1},
      {"cycle": "RDE tot", "type": "Essence", "v": 22, "j": 0},
      {"cycle": "RDE tot", "type": "Essence", "v": 23, "j": 4},
      {"cycle": "RDE tot", "type": "Essence", "v": 24, "j": -5},
      {"cycle": "RDE tot", "type": "Essence", "v": 25, "j": 2},
      {"cycle": "RDE tot", "type": "Essence", "v": 27, "j": -3},
      {"cycle": "RDE tot", "type": "Essence", "v": 29, "j": 0},
      {"cycle": "RDE tot", "type": "Essence", "v": 31, "j": 5},
      {"cycle": "RDE tot", "type": "Essence", "v": 34, "j": -1},
      {"cycle": "RDE tot", "type": "Essence", "v": 38, "j": -4},
      {"cycle": "RDE tot", "type": "Essence", "v": 42, "j": 1},
      {"cycle": "RDE tot", "type": "Essence", "v": 47, "j": 2},
      {"cycle": "RDE tot", "type": "Essence", "v": 52, "j": -4},
      {"cycle": "RDE tot", "type": "Essence", "v": 58, "j": 5},
      {"cycle": "RDE tot", "type": "Essence", "v": 65, "j": -1},
      {"cycle": "RDE tot", "type": "Essence", "v": 72, "j": 3},
      {"cycle": "RDE tot", "type": "Essence", "v": 82, "j": -5},
      {"cycle": "RDE tot", "type": "Essence", "v": 100, "j": -5}
    ]
  },
  "layer": [
    {
      "data": {"name": "zones"},
      "mark": {"type": "rect", "opacity": 0.28},
      "encoding": {
        "y": {"field": "bas", "type": "quantitative", "scale": {"domain": [0, 800], "nice": false}, "axis": {"orient": "left", "title": "Emissions de NOₓ [mg/km]", "values": [0, 100, 200, 300, 400, 500, 600, 700, 800]}},
        "y2": {"field": "haut"},
        "fill": {"field": "zone", "type": "nominal", "scale": {"domain": ["Essence", "Diesel"], "range": ["#d02a3a", "#3a7bbf"]}, "legend": null}
      }
    },
    {
      "data": {"name": "seuils"},
      "mark": {"type": "rule", "strokeWidth": 2.2},
      "encoding": {
        "y": {"field": "valeur", "type": "quantitative", "axis": null},
        "stroke": {
          "field": "legende",
          "type": "nominal",
          "scale": {
            "domain": ["Limite Euro 6d-Temp - Essence", "Facteur de conformité RDE - Essence", "Limite Euro 6d-Temp - Diesel", "Facteur de conformité RDE - Diesel", "Diesel", "Essence", "Diesel points", "Essence points"],
            "range": ["#c9313d", "#c9313d", "#3a7bbf", "#3a7bbf", "#3a6ea5", "#ad333d", "#a9cfe6", "#f7b596"]
          },
          "legend": {
            "orient": "none",
            "legendX": 399,
            "legendY": 12,
            "title": null,
            "labelFontSize": 20,
            "labelColor": "#262626",
            "labelLimit": 400,
            "fillColor": "#e5e5e5",
            "strokeColor": "#cccccc",
            "cornerRadius": 4,
            "padding": 7,
            "rowPadding": 2.7,
            "symbolType": "stroke",
            "symbolSize": 900,
            "symbolStrokeWidth": 2.4,
            "labelOffset": 24,
            "labelExpr": "replace(datum.label, ' points', '')"
          }
        },
        "strokeDash": {
          "field": "legende",
          "type": "nominal",
          "scale": {
            "domain": ["Limite Euro 6d-Temp - Essence", "Facteur de conformité RDE - Essence", "Limite Euro 6d-Temp - Diesel", "Facteur de conformité RDE - Diesel", "Diesel", "Essence", "Diesel points", "Essence points"],
            "range": [[7, 4], [1, 0], [7, 4], [1, 0], [1, 0], [1, 0], [1, 0], [1, 0]]
          },
          "legend": {
            "orient": "none",
            "legendX": 399,
            "legendY": 12,
            "title": null,
            "labelFontSize": 20,
            "labelColor": "#262626",
            "labelLimit": 400,
            "fillColor": "#e5e5e5",
            "strokeColor": "#cccccc",
            "cornerRadius": 4,
            "padding": 7,
            "rowPadding": 2.7,
            "symbolType": "stroke",
            "symbolSize": 900,
            "symbolStrokeWidth": 2.4,
            "labelOffset": 24,
            "labelExpr": "replace(datum.label, ' points', '')"
          }
        }
      }
    },
    {"data": {"name": "boites"}, "transform": [{"filter": "datum.type == 'Diesel' && datum.niveau == 6"}], "mark": {"type": "bar", "width": 2.6, "fill": "#a3bed9", "stroke": "#34455a", "strokeWidth": 1},
     "encoding": {"x": {"field": "cycle", "type": "nominal", "sort": null, "scale": {"domain": ["1ᵉʳ 2 kms", "RDE pondérés – UF", "RDE urbain", "RDE tot"], "paddingInner": 0, "paddingOuter": 0}, "axis": {"title": null, "labelFontStyle": {"condition": {"test": "indexof(datum.label, 'RDE') == 0", "value": "italic"}, "value": "normal"}}}, "xOffset": {"field": "niveau", "type": "quantitative", "scale": {"domain": [0, 7], "range": [61.65, 61.65]}}, "y": {"field": "bas", "type": "quantitative", "axis": null}, "y2": {"field": "haut"}}},
    {"data": {"name": "boites"}, "transform": [{"filter": "datum.type == 'Diesel' && datum.niveau == 5"}], "mark": {"type": "bar", "width": 5.1, "fill": "#86aacd", "stroke": "#34455a", "strokeWidth": 1},
     "encoding": {"x": {"field": "cycle", "type": "nominal", "sort": null, "scale": {"domain": ["1ᵉʳ 2 kms", "RDE pondérés – UF", "RDE urbain", "RDE tot"], "paddingInner": 0, "paddingOuter": 0}, "axis": {"title": null, "labelFontStyle": {"condition": {"test": "indexof(datum.label, 'RDE') == 0", "value": "italic"}, "value": "normal"}}}, "xOffset": {"field": "niveau", "type": "quantitative", "scale": {"domain": [0, 7], "range": [61.65, 61.65]}}, "y": {"field": "bas", "type": "quantitative", "axis": null}, "y2": {"field": "haut"}}},
    {"data": {"name": "boites"}, "transform": [{"filter": "datum.type == 'Diesel' && datum.niveau == 4"}], "mark": {"type": "bar", "width": 10.3, "fill": "#6e98c3", "stroke": "#34455a", "strokeWidth": 1},
     "encoding": {"x": {"field": "cycle", "type": "nominal", "sort": null, "scale": {"domain": ["1ᵉʳ 2 kms", "RDE pondérés – UF", "RDE urbain", "RDE tot"], "paddingInner": 0, "paddingOuter": 0}, "axis": {"title": null, "labelFontStyle": {"condition": {"test": "indexof(datum.label, 'RDE') == 0", "value": "italic"}, "value": "normal"}}}, "xOffset": {"field": "niveau", "type": "quantitative", "scale": {"domain": [0, 7], "range": [61.65, 61.65]}}, "y": {"field": "bas", "type": "quantitative", "axis": null}, "y2": {"field": "haut"}}},
    {"data": {"name": "boites"}, "transform": [{"filter": "datum.type == 'Diesel' && datum.niveau == 3"}], "mark": {"type": "bar", "width": 20.5, "fill": "#5a89ba", "stroke": "#34455a", "strokeWidth": 1},
     "encoding": {"x": {"field": "cycle", "type": "nominal", "sort": null, "scale": {"domain": ["1ᵉʳ 2 kms", "RDE pondérés – UF", "RDE urbain", "RDE tot"], "paddingInner": 0, "paddingOuter": 0}, "axis": {"title": null, "labelFontStyle": {"condition": {"test": "indexof(datum.label, 'RDE') == 0", "value": "italic"}, "value": "normal"}}}, "xOffset": {"field": "niveau", "type": "quantitative", "scale": {"domain": [0, 7], "range": [61.65, 61.65]}}, "y": {"field": "bas", "type": "quantitative", "axis": null}, "y2": {"field": "haut"}}},
    {"data": {"name": "boites"}, "transform": [{"filter": "datum.type == 'Diesel' && datum.niveau == 2"}], "mark": {"type": "bar", "width": 41, "fill": "#4a7cb1", "stroke": "#34455a", "strokeWidth": 1},
     "encoding": {"x": {"field": "cycle", "type": "nominal", "sort": null, "scale": {"domain": ["1ᵉʳ 2 kms", "RDE pondérés – UF", "RDE urbain", "RDE tot"], "paddingInner": 0, "paddingOuter": 0}, "axis": {"title": null, "labelFontStyle": {"condition": {"test": "indexof(datum.label, 'RDE') == 0", "value": "italic"}, "value": "normal"}}}, "xOffset": {"field": "niveau", "type": "quantitative", "scale": {"domain": [0, 7], "range": [61.65, 61.65]}}, "y": {"field": "bas", "type": "quantitative", "axis": null}, "y2": {"field": "haut"}}},
    {"data": {"name": "boites"}, "transform": [{"filter": "datum.type == 'Diesel' && datum.niveau == 1"}], "mark": {"type": "bar", "width": 82, "fill": "#3a6ea5", "stroke": "#34455a", "strokeWidth": 1},
     "encoding": {"x": {"field": "cycle", "type": "nominal", "sort": null, "scale": {"domain": ["1ᵉʳ 2 kms", "RDE pondérés – UF", "RDE urbain", "RDE tot"], "paddingInner": 0, "paddingOuter": 0}, "axis": {"title": null, "labelFontStyle": {"condition": {"test": "indexof(datum.label, 'RDE') == 0", "value": "italic"}, "value": "normal"}}}, "xOffset": {"field": "niveau", "type": "quantitative", "scale": {"domain": [0, 7], "range": [61.65, 61.65]}}, "y": {"field": "bas", "type": "quantitative", "axis": null}, "y2": {"field": "haut"}}},
    {"data": {"name": "boites"}, "transform": [{"filter": "datum.type == 'Diesel' && datum.niveau == 1"}], "mark": {"type": "bar", "width": 82, "fill": "#274a72", "stroke": "#274a72", "strokeWidth": 2.5},
     "encoding": {"x": {"field": "cycle", "type": "nominal", "sort": null, "scale": {"domain": ["1ᵉʳ 2 kms", "RDE pondérés – UF", "RDE urbain", "RDE tot"], "paddingInner": 0, "paddingOuter": 0}, "axis": {"title": null, "labelFontStyle": {"condition": {"test": "indexof(datum.label, 'RDE') == 0", "value": "italic"}, "value": "normal"}}}, "xOffset": {"field": "niveau", "type": "quantitative", "scale": {"domain": [0, 7], "range": [61.65, 61.65]}}, "y": {"field": "mediane", "type": "quantitative", "axis": null}, "y2": {"field": "mediane"}}},
    {"data": {"name": "boites"}, "transform": [{"filter": "datum.type == 'Essence' && datum.niveau == 6"}], "mark": {"type": "bar", "width": 2.6, "fill": "#e2b4b9", "stroke": "#5c3036", "strokeWidth": 1},
     "encoding": {"x": {"field": "cycle", "type": "nominal", "sort": null, "scale": {"domain": ["1ᵉʳ 2 kms", "RDE pondérés – UF", "RDE urbain", "RDE tot"], "paddingInner": 0, "paddingOuter": 0}, "axis": {"title": null, "labelFontStyle": {"condition": {"test": "indexof(datum.label, 'RDE') == 0", "value": "italic"}, "value": "normal"}}}, "xOffset": {"field": "niveau", "type": "quantitative", "scale": {"domain": [0, 7], "range": [143.85, 143.85]}}, "y": {"field": "bas", "type": "quantitative", "axis": null}, "y2": {"field": "haut"}}},
    {"data": {"name": "boites"}, "transform": [{"filter": "datum.type == 'Essence' && datum.niveau == 5"}], "mark": {"type": "bar", "width": 5.1, "fill": "#d8959d", "stroke": "#5c3036", "strokeWidth": 1},
     "encoding": {"x": {"field": "cycle", "type": "nominal", "sort": null, "scale": {"domain": ["1ᵉʳ 2 kms", "RDE pondérés – UF", "RDE urbain", "RDE tot"], "paddingInner": 0, "paddingOuter": 0}, "axis": {"title": null, "labelFontStyle": {"condition": {"test": "indexof(datum.label, 'RDE') == 0", "value": "italic"}, "value": "normal"}}}, "xOffset": {"field": "niveau", "type": "quantitative", "scale": {"domain": [0, 7], "range": [143.85, 143.85]}}, "y": {"field": "bas", "type": "quantitative", "axis": null}, "y2": {"field": "haut"}}},
    {"data": {"name": "boites"}, "transform": [{"filter": "datum.type == 'Essence' && datum.niveau == 4"}], "mark": {"type": "bar", "width": 10.3, "fill": "#cf7680", "stroke": "#5c3036", "strokeWidth": 1},
     "encoding": {"x": {"field": "cycle", "type": "nominal", "sort": null, "scale": {"domain": ["1ᵉʳ 2 kms", "RDE pondérés – UF", "RDE urbain", "RDE tot"], "paddingInner": 0, "paddingOuter": 0}, "axis": {"title": null, "labelFontStyle": {"condition": {"test": "indexof(datum.label, 'RDE') == 0", "value": "italic"}, "value": "normal"}}}, "xOffset": {"field": "niveau", "type": "quantitative", "scale": {"domain": [0, 7], "range": [143.85, 143.85]}}, "y": {"field": "bas", "type": "quantitative", "axis": null}, "y2": {"field": "haut"}}},
    {"data": {"name": "boites"}, "transform": [{"filter": "datum.type == 'Essence' && datum.niveau == 3"}], "mark": {"type": "bar", "width": 20.5, "fill": "#c65c67", "stroke": "#5c3036", "strokeWidth": 1},
     "encoding": {"x": {"field": "cycle", "type": "nominal", "sort": null, "scale": {"domain": ["1ᵉʳ 2 kms", "RDE pondérés – UF", "RDE urbain", "RDE tot"], "paddingInner": 0, "paddingOuter": 0}, "axis": {"title": null, "labelFontStyle": {"condition": {"test": "indexof(datum.label, 'RDE') == 0", "value": "italic"}, "value": "normal"}}}, "xOffset": {"field": "niveau", "type": "quantitative", "scale": {"domain": [0, 7], "range": [143.85, 143.85]}}, "y": {"field": "bas", "type": "quantitative", "axis": null}, "y2": {"field": "haut"}}},
    {"data": {"name": "boites"}, "transform": [{"filter": "datum.type == 'Essence' && datum.niveau == 2"}], "mark": {"type": "bar", "width": 41, "fill": "#bb4650", "stroke": "#5c3036", "strokeWidth": 1},
     "encoding": {"x": {"field": "cycle", "type": "nominal", "sort": null, "scale": {"domain": ["1ᵉʳ 2 kms", "RDE pondérés – UF", "RDE urbain", "RDE tot"], "paddingInner": 0, "paddingOuter": 0}, "axis": {"title": null, "labelFontStyle": {"condition": {"test": "indexof(datum.label, 'RDE') == 0", "value": "italic"}, "value": "normal"}}}, "xOffset": {"field": "niveau", "type": "quantitative", "scale": {"domain": [0, 7], "range": [143.85, 143.85]}}, "y": {"field": "bas", "type": "quantitative", "axis": null}, "y2": {"field": "haut"}}},
    {"data": {"name": "boites"}, "transform": [{"filter": "datum.type == 'Essence' && datum.niveau == 1"}], "mark": {"type": "bar", "width": 82, "fill": "#ad333d", "stroke": "#5c3036", "strokeWidth": 1},
     "encoding": {"x": {"field": "cycle", "type": "nominal", "sort": null, "scale": {"domain": ["1ᵉʳ 2 kms", "RDE pondérés – UF", "RDE urbain", "RDE tot"], "paddingInner": 0, "paddingOuter": 0}, "axis": {"title": null, "labelFontStyle": {"condition": {"test": "indexof(datum.label, 'RDE') == 0", "value": "italic"}, "value": "normal"}}}, "xOffset": {"field": "niveau", "type": "quantitative", "scale": {"domain": [0, 7], "range": [143.85, 143.85]}}, "y": {"field": "bas", "type": "quantitative", "axis": null}, "y2": {"field": "haut"}}},
    {"data": {"name": "boites"}, "transform": [{"filter": "datum.type == 'Essence' && datum.niveau == 1"}], "mark": {"type": "bar", "width": 82, "fill": "#73202a", "stroke": "#73202a", "strokeWidth": 2.5},
     "encoding": {"x": {"field": "cycle", "type": "nominal", "sort": null, "scale": {"domain": ["1ᵉʳ 2 kms", "RDE pondérés – UF", "RDE urbain", "RDE tot"], "paddingInner": 0, "paddingOuter": 0}, "axis": {"title": null, "labelFontStyle": {"condition": {"test": "indexof(datum.label, 'RDE') == 0", "value": "italic"}, "value": "normal"}}}, "xOffset": {"field": "niveau", "type": "quantitative", "scale": {"domain": [0, 7], "range": [143.85, 143.85]}}, "y": {"field": "mediane", "type": "quantitative", "axis": null}, "y2": {"field": "mediane"}}},
    {
      "data": {"name": "points"},
      "transform": [{"filter": "datum.type == 'Diesel'"}],
      "mark": {"type": "circle", "size": 40, "fill": "#a9cfe6", "stroke": "#7d8d9c", "strokeWidth": 0.6, "opacity": 1},
      "encoding": {
        "x": {"field": "cycle", "type": "nominal", "sort": null, "scale": {"domain": ["1ᵉʳ 2 kms", "RDE pondérés – UF", "RDE urbain", "RDE tot"], "paddingInner": 0, "paddingOuter": 0}, "axis": {"title": null, "labelFontStyle": {"condition": {"test": "indexof(datum.label, 'RDE') == 0", "value": "italic"}, "value": "normal"}}},
        "xOffset": {"field": "j", "type": "quantitative", "scale": {"domain": [-6, 6], "range": [49.35, 73.95]}},
        "y": {"field": "v", "type": "quantitative", "axis": null}
      }
    },
    {
      "data": {"name": "points"},
      "transform": [{"filter": "datum.type == 'Essence'"}],
      "mark": {"type": "circle", "size": 40, "fill": "#f5b896", "stroke": "#a8866f", "strokeWidth": 0.6, "opacity": 1},
      "encoding": {
        "x": {"field": "cycle", "type": "nominal", "sort": null, "scale": {"domain": ["1ᵉʳ 2 kms", "RDE pondérés – UF", "RDE urbain", "RDE tot"], "paddingInner": 0, "paddingOuter": 0}, "axis": {"title": null, "labelFontStyle": {"condition": {"test": "indexof(datum.label, 'RDE') == 0", "value": "italic"}, "value": "normal"}}},
        "xOffset": {"field": "j", "type": "quantitative", "scale": {"domain": [-6, 6], "range": [131.55, 156.15]}},
        "y": {"field": "v", "type": "quantitative", "axis": null}
      }
    },
    {
      "data": {"name": "aberrants"},
      "transform": [{"filter": "datum.type == 'Diesel'"}],
      "mark": {"type": "point", "shape": "M0,-1L0.55,0L0,1L-0.55,0Z", "filled": true, "size": 200, "color": "#333333", "opacity": 1},
      "encoding": {
        "x": {"field": "cycle", "type": "nominal", "sort": null, "bandPosition": 0.3, "scale": {"domain": ["1ᵉʳ 2 kms", "RDE pondérés – UF", "RDE urbain", "RDE tot"], "paddingInner": 0, "paddingOuter": 0}, "axis": {"title": null, "labelFontStyle": {"condition": {"test": "indexof(datum.label, 'RDE') == 0", "value": "italic"}, "value": "normal"}}},
        "y": {"field": "v", "type": "quantitative", "axis": {"orient": "right", "title": "©IFP Energies Nouvelles"}}
      }
    },
    {
      "data": {"name": "aberrants"},
      "transform": [{"filter": "datum.type == 'Essence'"}],
      "mark": {"type": "point", "shape": "M0,-1L0.55,0L0,1L-0.55,0Z", "filled": true, "size": 200, "color": "#333333", "opacity": 1},
      "encoding": {
        "x": {"field": "cycle", "type": "nominal", "sort": null, "bandPosition": 0.7, "scale": {"domain": ["1ᵉʳ 2 kms", "RDE pondérés – UF", "RDE urbain", "RDE tot"], "paddingInner": 0, "paddingOuter": 0}, "axis": {"title": null, "labelFontStyle": {"condition": {"test": "indexof(datum.label, 'RDE') == 0", "value": "italic"}, "value": "normal"}}},
        "y": {"field": "v", "type": "quantitative", "axis": null}
      }
    }
  ],
  "resolve": {
    "scale": {"xOffset": "independent"},
    "axis": {"y": "independent"}
  }
}
